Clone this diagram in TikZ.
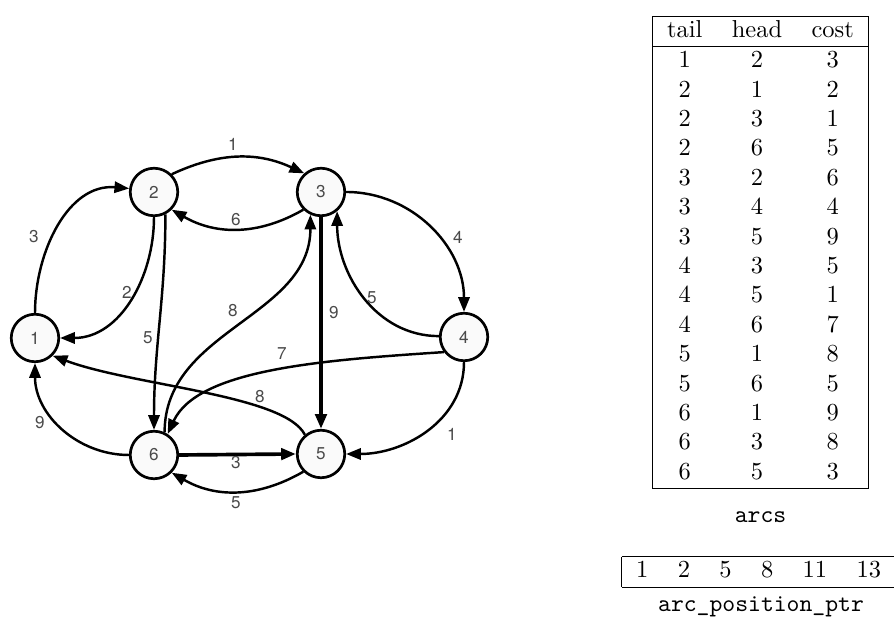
\documentclass[tikz,border=0pt]{standalone}
\usepackage{fontspec}
\newfontfamily\graphfont{TeX Gyre Heros}
\usetikzlibrary{arrows.meta}
\definecolor{lblgray}{HTML}{4A4A4A}
\definecolor{nodefill}{HTML}{FAFAFA}
\begin{document}
\begin{tikzpicture}[x=0.4083pt,y=0.4083pt,
  vertex/.style={circle,draw=black,line width=1.1pt,fill=nodefill,minimum size=19.4pt,inner sep=0pt,text=lblgray,font=\graphfont\fontsize{7}{8}\selectfont},
  arc/.style={line width=1pt,-{Triangle[length=6pt,width=4.6pt]}},
  thickarc/.style={line width=1.5pt,-{Triangle[length=6pt,width=4.6pt]}},
  lbl/.style={text=lblgray,font=\graphfont\fontsize{7}{8}\selectfont,inner sep=0pt},
  tbl/.style={inner sep=0pt},
  captext/.style={inner sep=0pt,font=\ttfamily}
]
\useasboundingbox (0,0) rectangle (894,624);

\node[vertex] (n1) at (35,286) {1};
\node[vertex] (n2) at (154,432) {2};
\node[vertex] (n3) at (321,432) {3};
\node[vertex] (n4) at (464,287) {4};
\node[vertex] (n5) at (321,170) {5};
\node[vertex] (n6) at (154,169) {6};

% arcs
\draw[arc] (n1.north) to[out=90,in=175] (n2.172) node[lbl] at (34,387) {3};
\draw[arc] (n2.south) to[out=-90,in=0] (n1.east) node[lbl] at (127,332) {2};
\draw[arc] (n2.45) to[out=25,in=155] (n3.132) node[lbl] at (233,480) {1};
\draw[arc] (n2.-63) to[out=-90,in=90] (n6.north) node[lbl] at (148,286) {5};
\draw[arc] (n3.-135) to[out=-150,in=-30] (n2.-45) node[lbl] at (236,404) {6};
\draw[arc] (n3.east) to[out=0,in=90] (n4.north) node[lbl] at (458,387) {4};
\draw[thickarc] (n3.south) -- (n5.north) node[lbl] at (334,311) {9};
\draw[arc] (n4.178) to[out=180,in=-90] (n3.-50) node[lbl] at (372,326) {5};
\draw[arc] (n4.south) to[out=-90,in=0] (n5.east) node[lbl] at (452,190) {1};
\draw[arc] (n4.-143) .. controls +(-120,-8) and +(30,65) .. (n6.57) node[lbl] at (282,270) {7};
\draw[arc] (n5.130) .. controls +(-20,40) and +(80,-30) .. (n1.-45) node[lbl] at (260,227) {8};
\draw[arc] (n5.-135) to[out=-150,in=-30] (n6.-45) node[lbl] at (236,121) {5};
\draw[arc] (n6.west) to[out=180,in=-90] (n1.south) node[lbl] at (40,201) {9};
\draw[arc] (n6.65) to[out=90,in=-90] (n3.-115) node[lbl] at (233,313) {8};
\draw[thickarc] (n6.east) -- (n5.west) node[lbl] at (236,161) {3};

% tables
\node[tbl] (arcs) at (760.5,371.5) {%
\begin{tabular}{|ccc|}\hline
tail & head & cost\\ \hline
1&2&3\\ 2&1&2\\ 2&3&1\\ 2&6&5\\ 3&2&6\\ 3&4&4\\ 3&5&9\\ 4&3&5\\
4&5&1\\ 4&6&7\\ 5&1&8\\ 5&6&5\\ 6&1&9\\ 6&3&8\\ 6&5&3\\ \hline
\end{tabular}};
\node[captext] (arcscap) at (760.5,107) {arcs};
\node[tbl,anchor=west] (ptr) at (621,52) {%
\begin{tabular}{|cccccc|}\hline
1&2&5&8&11&13\\ \hline
\end{tabular}};
\node[captext] (ptrcap) at (761,17) {arc\_position\_ptr};
\end{tikzpicture}
\end{document}
